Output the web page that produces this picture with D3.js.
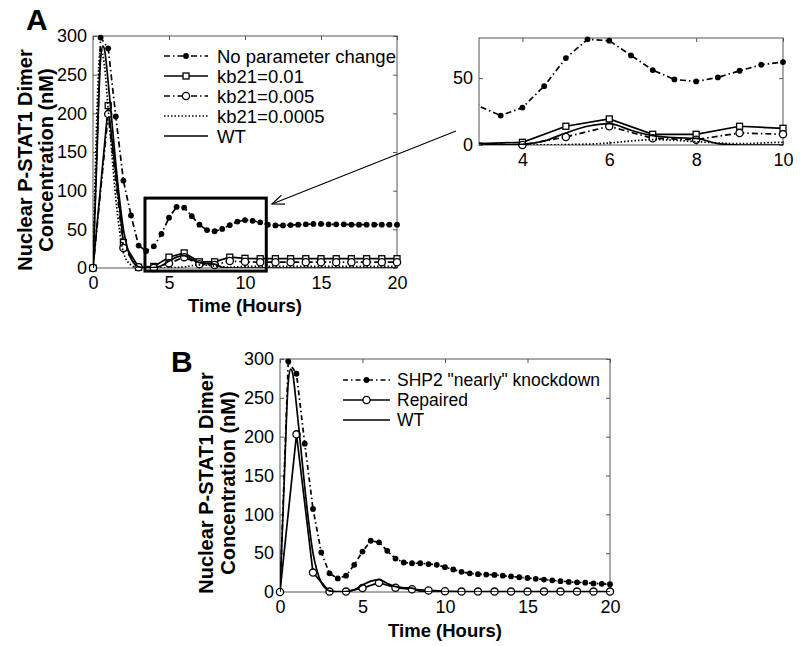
<!DOCTYPE html>
<html><head><meta charset="utf-8">
<script src="https://cdn.jsdelivr.net/npm/d3@7"></script>
<style>body{margin:0;background:#fff} text{font-family:Arial,"Liberation Sans",sans-serif}</style>
</head><body><svg id="c" width="800" height="646"></svg>
<script>
// ---------------- data ----------------
const tHalf = [0,0.5,1,1.5,2,2.5,3,3.5,4,4.5,5,5.5,6,6.5,7,7.5,8,8.5,9,9.5,10,10.5,11,11.5,12,12.5,13,13.5,14,14.5,15,15.5,16,16.5,17,17.5,18,18.5,19,19.5,20];
const tHour = [0,1,2,3,4,5,6,7,8,9,10,11,12,13,14,15,16,17,18,19,20];
const noParamChange = [0,298,284,196,113,68,29,22,28,44,65,79,78,67,56,49,47.5,50.5,55.5,60,62,61,59,56,55,55,55.5,56,56.5,57,57,56.5,56.5,56.5,56,56,56,56,56,56,56];
const kb21_001 = [0,210,33,1,2,14,19.5,8,8,14,12.5,12,12,12,12,12,12,12,12,12,12];
const kb21_0005 = [0,199,26,1,0,6,14,5,4,9,8,7.5,7.5,7.5,7.5,7.5,7.5,7.5,7.5,7.5,7.5];
const tDotted = [0,0.5,0.75,1,1.25,1.5,1.75,2,2.5,3,4,5,6,6.5,7,7.5,8,9,10,12,14,16,18,20];
const kb21_00005 = [0,283,262,205,145,90,48,20,4,0,0,0.3,1.5,3,4,3.5,2.5,1,2,2,2,2,2,2];
const tWT = [0,0.25,0.5,0.65,0.75,1,1.25,1.5,1.75,2,2.25,2.5,2.75,3,3.5,4,4.5,5,5.5,6,6.5,7,7.5,8,8.5,9,10,12,14,16,18,20];
const wt = [0,140,270,287,283,240,188,135,88,50,27,12,5,1.5,0,0.5,3,9,14,16,11,7,5.5,5,1,0,0,0,0,0,0,0];
const shp2Knockdown = [0,297,281,191,107,51,24,17.5,21,35,52,66,64,53,43,38,37,37,36,35,32,29,26,24,23,22.5,22,21,20,19,18,17,16,15,14,13,12.5,12,11,10.5,10];
const repaired = [0,203,25,0.5,0.5,5,12,5.5,3.5,2,1,0.5,0.5,0.5,0.5,0.5,0.5,0.5,0.5,0.5,0.5];

const legendA = ["No parameter change","kb21=0.01","kb21=0.005","kb21=0.0005","WT"];
const legendB = ['SHP2 "nearly" knockdown',"Repaired","WT"];
const xTicksMain = [0,5,10,15,20];
const yTicksMain = [0,50,100,150,200,250,300];
const xTicksInset = [4,6,8,10];
const yTicksInset = [0,50];

// ---------------- styles ----------------
const ST = {
  dashdotDot: {dash:"6,3,1.5,3", marker:"dot"},
  solidSquare: {dash:null, marker:"square"},
  dashdotCircle: {dash:"6,3,1.5,3", marker:"circle"},
  dotted: {dash:"1.5,2", marker:null},
  solid: {dash:null, marker:null},
  dashdotDotB: {dash:"5,3,1.5,3", marker:"dot"},
  solidCircle: {dash:null, marker:"circle"}
};

const svg = d3.select("#c");
const AX = "#555";
const LW = 1.7;

function panel(p){
  const x = d3.scaleLinear().domain(p.xd).range([p.left,p.right]);
  const y = d3.scaleLinear().domain(p.yd).range([p.bottom,p.top]);
  const g = svg.append("g");
  const fmt = d3.format("d");
  const style = sel => { sel.select(".domain").remove(); sel.selectAll("line").attr("stroke",AX);
    sel.attr("font-size",18).attr("font-family","Arial, 'Liberation Sans', sans-serif"); sel.selectAll("text").attr("fill","#000"); };
  g.append("g").attr("transform",`translate(0,${p.bottom})`)
    .call(d3.axisBottom(x).tickValues(p.xt).tickSizeInner(-4).tickSizeOuter(0).tickPadding(8.5).tickFormat(fmt)).call(style);
  g.append("g").attr("transform",`translate(0,${p.top})`)
    .call(d3.axisTop(x).tickValues(p.xt).tickSizeInner(-4).tickSizeOuter(0).tickFormat("")).call(style);
  g.append("g").attr("transform",`translate(${p.left},0)`)
    .call(d3.axisLeft(y).tickValues(p.yt).tickSizeInner(-4).tickSizeOuter(0).tickPadding(6).tickFormat(fmt)).call(style);
  g.append("g").attr("transform",`translate(${p.right},0)`)
    .call(d3.axisRight(y).tickValues(p.yt).tickSizeInner(-4).tickSizeOuter(0).tickFormat("")).call(style);
  g.append("rect").attr("x",p.left).attr("y",p.top).attr("width",p.right-p.left).attr("height",p.bottom-p.top)
    .attr("fill","none").attr("stroke",AX).attr("stroke-width",1);
  const id = "clip"+Math.random().toString(36).slice(2);
  svg.append("clipPath").attr("id",id).append("rect").attr("x",p.left).attr("y",p.top-1).attr("width",p.right-p.left).attr("height",p.bottom-p.top+1);
  return {x,y,g,clip:id,p};
}

function marker(g, type, cx, cy){
  if(type==="dot") g.append("circle").attr("cx",cx).attr("cy",cy).attr("r",2.9).attr("fill","#000");
  else if(type==="square") g.append("rect").attr("x",cx-3).attr("y",cy-3).attr("width",6).attr("height",6).attr("fill","#fff").attr("stroke","#000").attr("stroke-width",1.3);
  else if(type==="circle") g.append("circle").attr("cx",cx).attr("cy",cy).attr("r",3.6).attr("fill","#fff").attr("stroke","#000").attr("stroke-width",1.3);
}

function series(P, xs, ys, st, opts={}){
  const pts = xs.map((t,i)=>[t,ys[i]]);
  const line = d3.line().x(d=>P.x(d[0])).y(d=>P.y(d[1])).curve(opts.smooth? d3.curveMonotoneX : d3.curveLinear);
  const g = P.g.append("g");
  g.append("path").attr("d",line(pts)).attr("fill","none").attr("stroke","#000").attr("stroke-width",LW)
    .attr("stroke-dasharray",st.dash).attr("clip-path",`url(#${P.clip})`);
  if(st.marker){
    const [lo,hi] = P.x.domain();
    pts.filter(d=>d[0]>lo+0.01 || lo===0).filter(d=>d[0]<=hi).forEach(d=>marker(g,st.marker,P.x(d[0]),P.y(d[1])));
  }
}

function legend(x0,x1,tx,rows,labels,styles,fs){
  const g = svg.append("g");
  labels.forEach((lab,i)=>{
    const y = rows[i];
    g.append("line").attr("x1",x0).attr("x2",x1).attr("y1",y).attr("y2",y).attr("stroke","#000").attr("stroke-width",LW).attr("stroke-dasharray",styles[i].dash);
    if(styles[i].marker) marker(g,styles[i].marker,(x0+x1)/2,y);
    g.append("text").attr("x",tx).attr("y",y).attr("dy","0.36em").attr("font-size",fs).text(lab);
  });
}

function yTitle(cx1,cx2,cy){
  svg.append("text").attr("transform",`translate(${cx1},${cy}) rotate(-90)`).attr("text-anchor","middle").attr("font-weight","bold").attr("font-size",20).text("Nuclear P-STAT1 Dimer");
  svg.append("text").attr("transform",`translate(${cx2},${cy}) rotate(-90)`).attr("text-anchor","middle").attr("font-weight","bold").attr("font-size",20).text("Concentration (nM)");
}

// ---------------- panel A ----------------
const A = panel({left:93,right:397,top:36,bottom:268,xd:[0,20],yd:[0,300],xt:xTicksMain,yt:yTicksMain});
series(A,tHalf,noParamChange,ST.dashdotDot);
series(A,tHour,kb21_001,ST.solidSquare);
series(A,tHour,kb21_0005,ST.dashdotCircle);
series(A,tDotted,kb21_00005,ST.dotted,{smooth:true});
series(A,tWT,wt,ST.solid,{smooth:true});
legend(164,208,217,[56,76,96,116,136],legendA,[ST.dashdotDot,ST.solidSquare,ST.dashdotCircle,ST.dotted,ST.solid],18.5);
svg.append("text").attr("x",245).attr("y",312).attr("text-anchor","middle").attr("font-weight","bold").attr("font-size",18.5).text("Time (Hours)");
yTitle(32,53,160);
svg.append("text").attr("x",26).attr("y",30).attr("font-weight","bold").attr("font-size",30).text("A");
// zoom box
svg.append("rect").attr("x",A.x(3.42)).attr("y",A.y(90.4)).attr("width",A.x(11.4)-A.x(3.42)).attr("height",A.y(-4)-A.y(90.4))
  .attr("fill","none").attr("stroke","#000").attr("stroke-width",3);
// arrow
svg.append("line").attr("x1",456).attr("y1",131).attr("x2",272).attr("y2",204).attr("stroke","#000").attr("stroke-width",1.1);
(function(){ const ang=Math.atan2(204-131,272-456); const L=13, w=0.38;
  const p1=[272-L*Math.cos(ang-w),204-L*Math.sin(ang-w)], p2=[272-L*Math.cos(ang+w),204-L*Math.sin(ang+w)];
  svg.append("path").attr("d",`M${p1}L272,204L${p2}`).attr("fill","none").attr("stroke","#000").attr("stroke-width",1.2);
})();

// ---------------- inset ----------------
const I = panel({left:479,right:783,top:38,bottom:145,xd:[3,10],yd:[0,80],xt:xTicksInset,yt:yTicksInset});
series(I,tHalf,noParamChange,ST.dashdotDot);
series(I,tHour,kb21_001,ST.solidSquare);
series(I,tHour,kb21_0005,ST.dashdotCircle);
series(I,tDotted,kb21_00005,ST.dotted,{smooth:true});
series(I,tWT,wt,ST.solid,{smooth:true});

// ---------------- panel B ----------------
const B = panel({left:280,right:610,top:359,bottom:592,xd:[0,20],yd:[0,300],xt:xTicksMain,yt:yTicksMain});
series(B,tHalf,shp2Knockdown,ST.dashdotDotB);
series(B,tHour,repaired,ST.solidCircle);
series(B,tWT,wt,ST.solid,{smooth:true});
legend(343,390,397,[380,400,420],legendB,[ST.dashdotDotB,ST.solidCircle,ST.solid],17.5);
svg.append("text").attr("x",445).attr("y",637).attr("text-anchor","middle").attr("font-weight","bold").attr("font-size",18.5).text("Time (Hours)");
yTitle(213,235,483);
svg.append("text").attr("x",171).attr("y",372).attr("font-weight","bold").attr("font-size",30).text("B");
</script></body></html>
